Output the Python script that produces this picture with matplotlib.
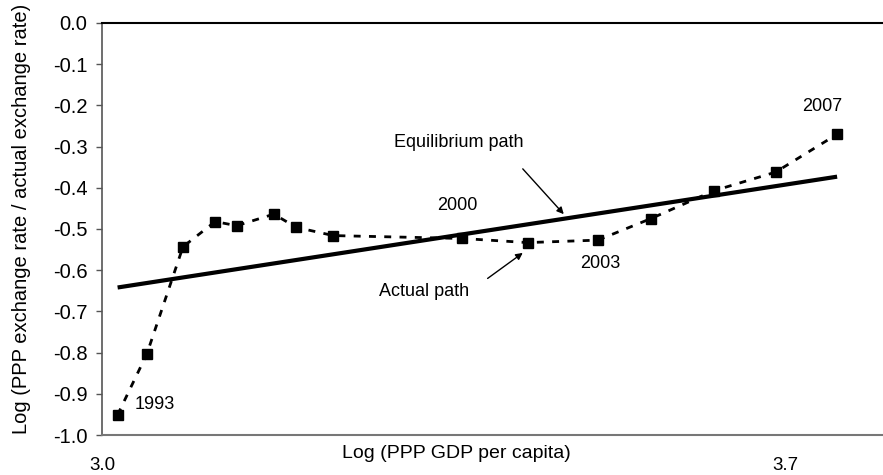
import matplotlib
matplotlib.use("Agg")
import matplotlib.pyplot as plt
import matplotlib.transforms as mtransforms

plt.rcParams['font.family'] = ['Liberation Sans', 'DejaVu Sans']

# Actual path (1993..2007)
years = list(range(1993, 2008))
log_gdp = [3.016, 3.046, 3.083, 3.116, 3.138, 3.176, 3.199, 3.237,
           3.369, 3.436, 3.508, 3.562, 3.627, 3.690, 3.753]
log_ratio = [-0.951, -0.803, -0.543, -0.482, -0.492, -0.464, -0.496, -0.516,
             -0.523, -0.533, -0.527, -0.475, -0.407, -0.362, -0.270]

# Equilibrium path (straight line endpoints)
eq_x = [3.016, 3.753]
eq_y = [-0.642, -0.373]

y_ticks = [0.0, -0.1, -0.2, -0.3, -0.4, -0.5, -0.6, -0.7, -0.8, -0.9, -1.0]
x_tick_vals = [3.0, 3.7]
year_labels = {"1993": (3.054, -0.927), "2000": (3.364, -0.443),
               "2003": (3.510, -0.583), "2007": (3.738, -0.203)}

fig = plt.figure(figsize=(8.83, 4.75), dpi=100)
ax = fig.add_axes([0.1155, 0.0842, 0.8845, 0.8674])

ax.plot(eq_x, eq_y, color='black', lw=3, solid_capstyle='butt', zorder=2)
ax.plot(log_gdp, log_ratio, color='black', lw=2, linestyle=(0, (2.5, 3)),
        marker='s', markersize=7, zorder=3)

ax.set_xlim(3.0, 3.8)
ax.set_ylim(-1.0, 0.0)
ax.set_yticks(y_ticks)
ax.set_yticklabels([f"{v:.1f}" for v in y_ticks], fontsize=14.5)
ax.set_xticks([])
ax.tick_params(axis='y', direction='out', length=4, width=1, color='#555555', pad=6.5)

ax.spines['right'].set_visible(False)
ax.spines['top'].set_color('black')
ax.spines['top'].set_linewidth(1.5)
ax.spines['left'].set_color('#555555')
ax.spines['left'].set_linewidth(1.2)
ax.spines['bottom'].set_color('#777777')
ax.spines['bottom'].set_linewidth(1.5)

# y label placed by figure pixels
fig.text(22 / 883, 1 - 219 / 475, "Log (PPP exchange rate / actual exchange rate)",
         rotation=90, ha='center', va='center', fontsize=14.5)

# x label and tick labels placed below the axis
trans = mtransforms.blended_transform_factory(ax.transData, fig.transFigure)
ax.text(3.363, 1 - 454 / 475, "Log (PPP GDP per capita)", transform=trans,
        ha='center', va='center', fontsize=14)
for xv in x_tick_vals:
    ax.text(xv, 0.002, f"{xv:.1f}", transform=trans,
            ha='center', va='bottom', fontsize=13.5)

for lab, (xx, yy) in year_labels.items():
    ax.text(xx, yy, lab, ha='center', va='center', fontsize=13)

ax.text(3.365, -0.289, "Equilibrium path", ha='center', va='center', fontsize=13)
ax.text(3.330, -0.651, "Actual path", ha='center', va='center', fontsize=13)

ax.annotate("", xy=(3.473, -0.464), xytext=(3.431, -0.354),
            arrowprops=dict(arrowstyle='-|>', color='black', lw=1,
                            mutation_scale=10, shrinkA=0, shrinkB=0))
ax.annotate("", xy=(3.431, -0.558), xytext=(3.395, -0.620),
            arrowprops=dict(arrowstyle='-|>', color='black', lw=1,
                            mutation_scale=10, shrinkA=0, shrinkB=0))

fig.savefig("out.png", dpi=100)
